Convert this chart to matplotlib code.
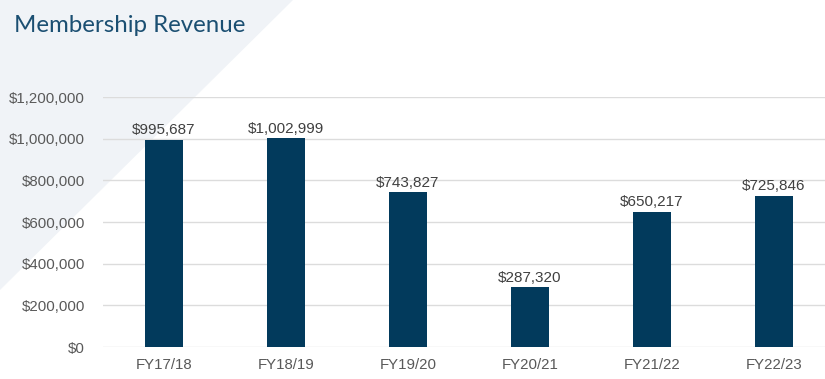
import matplotlib.pyplot as plt
from matplotlib.patches import Polygon

years = ["FY17/18", "FY18/19", "FY19/20", "FY20/21", "FY21/22", "FY22/23"]
revenue = [995687, 1002999, 743827, 287320, 650217, 725846]
yticks = [0, 200000, 400000, 600000, 800000, 1000000, 1200000]

fig = plt.figure(figsize=(8.25, 3.79), dpi=100)

# light triangle in the top-left corner
tri = Polygon([(0, 1), (293/825, 1), (0, 1-290/379)], closed=True,
              transform=fig.transFigure, facecolor='#f0f3f7', edgecolor='none', zorder=0)
fig.patches.append(tri)

fig.text(14/825, 1-25/379, "Membership Revenue", fontsize=17.3, color='#1b4f72',
         family='Lato', va='center', ha='left')

ax = fig.add_axes([103/825, 1-347/379, 722/825, 250/379], zorder=2)
ax.patch.set_alpha(0)

x = range(len(years))
bars = ax.bar(x, revenue, width=0.31, color='#023a5c', zorder=3)
for xi, v in zip(x, revenue):
    ax.text(xi, v + 12000, "${:,}".format(v), ha='center', va='bottom',
            fontsize=11, color='#404040', family='Liberation Sans')

ax.set_xlim(-0.5, -0.5 + 722/122)
ax.set_ylim(0, 1200000)
ax.set_yticks(yticks)
ax.set_yticklabels(["${:,}".format(t) for t in yticks])
ax.set_xticks(list(x))
ax.set_xticklabels(years)
for lab in ax.get_xticklabels() + ax.get_yticklabels():
    lab.set_family('Liberation Sans')
    lab.set_fontsize(10.8)
    lab.set_color('#595959')
ax.tick_params(length=0)
ax.tick_params(axis='y', pad=13)
ax.tick_params(axis='x', pad=8)
ax.grid(axis='y', color='#dcdcdc', lw=1, zorder=0)
for s in ax.spines.values():
    s.set_visible(False)

fig.savefig("out.png", dpi=100)
